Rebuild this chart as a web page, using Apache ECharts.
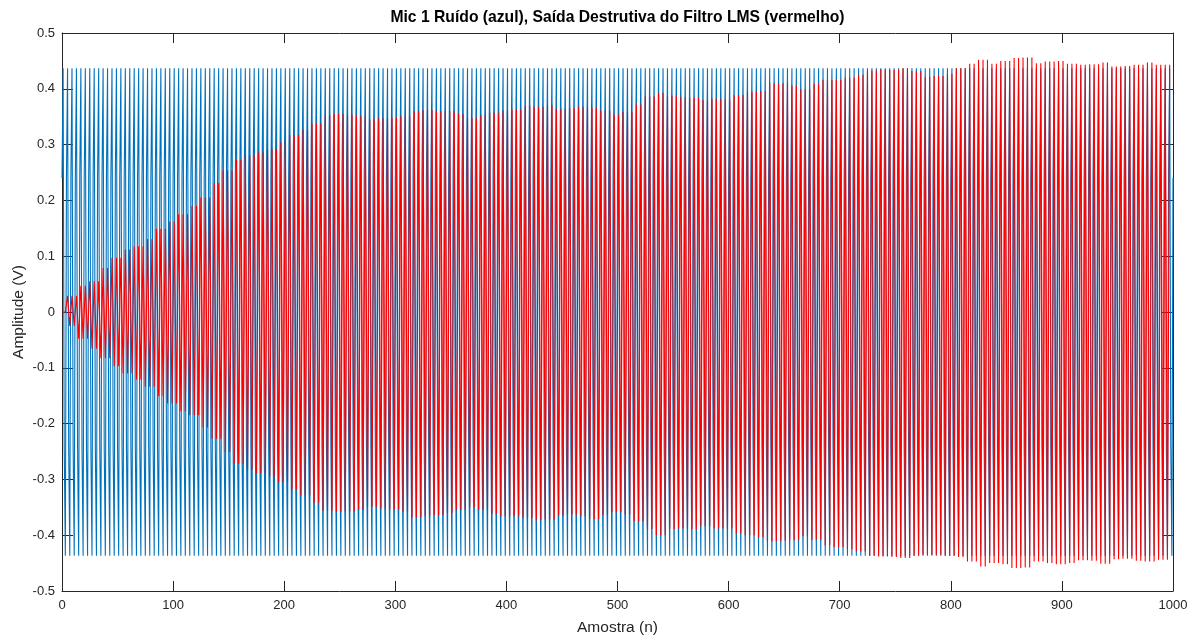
<!DOCTYPE html>
<html>
<head>
<meta charset="utf-8">
<script src="https://cdn.jsdelivr.net/npm/echarts@6/dist/echarts.min.js"></script>
<style>
  html, body { margin: 0; padding: 0; background: #fff; }
  #chart { width: 1201px; height: 637px; }
</style>
</head>
<body>
<div id="chart"></div>
<script>
// Mic 1 noise: a tone at a quarter of the sample rate, one period = 4 samples
const blueCycle = [0.24, 0.437, -0.24, -0.437];
const blueCount = 1001;

// LMS destructive output: peak envelope, one value every 10 samples (n = 0, 10, ..., 990)
const envStep = 10;
const redUpper = [
  0.000, 0.029, 0.047, 0.055, 0.079, 0.097, 0.112, 0.118, 0.131, 0.149,
  0.162, 0.175, 0.190, 0.205, 0.231, 0.254, 0.273, 0.281, 0.286, 0.292,
  0.304, 0.317, 0.327, 0.338, 0.353, 0.355, 0.354, 0.351, 0.345, 0.347,
  0.348, 0.351, 0.360, 0.362, 0.360, 0.360, 0.355, 0.347, 0.353, 0.357,
  0.361, 0.363, 0.369, 0.368, 0.371, 0.364, 0.365, 0.368, 0.366, 0.361,
  0.354, 0.359, 0.372, 0.386, 0.393, 0.388, 0.385, 0.384, 0.380, 0.382,
  0.381, 0.389, 0.395, 0.396, 0.410, 0.410, 0.406, 0.399, 0.409, 0.416,
  0.416, 0.420, 0.425, 0.433, 0.435, 0.434, 0.437, 0.432, 0.421, 0.423,
  0.427, 0.437, 0.445, 0.452, 0.445, 0.450, 0.455, 0.456, 0.446, 0.449,
  0.450, 0.445, 0.443, 0.444, 0.447, 0.440, 0.441, 0.443, 0.447, 0.443
];
const redLower = [
  0.000, -0.025, -0.048, -0.066, -0.083, -0.097, -0.110, -0.121, -0.134, -0.151,
  -0.164, -0.178, -0.185, -0.207, -0.227, -0.251, -0.272, -0.283, -0.289, -0.295,
  -0.305, -0.318, -0.329, -0.342, -0.356, -0.358, -0.357, -0.355, -0.349, -0.352,
  -0.354, -0.358, -0.368, -0.365, -0.364, -0.360, -0.355, -0.350, -0.355, -0.362,
  -0.366, -0.366, -0.369, -0.373, -0.372, -0.365, -0.363, -0.366, -0.371, -0.364,
  -0.359, -0.363, -0.375, -0.389, -0.400, -0.389, -0.388, -0.389, -0.384, -0.388,
  -0.388, -0.397, -0.400, -0.403, -0.411, -0.410, -0.409, -0.402, -0.408, -0.418,
  -0.421, -0.425, -0.429, -0.437, -0.438, -0.439, -0.441, -0.437, -0.435, -0.435,
  -0.437, -0.439, -0.447, -0.456, -0.450, -0.452, -0.459, -0.458, -0.447, -0.450,
  -0.452, -0.450, -0.445, -0.446, -0.451, -0.443, -0.442, -0.446, -0.447, -0.444
];
const redCount = 998;

const xTicks = { min: 0, max: 1000, step: 100 };
const yTicks = { min: -0.5, max: 0.5, step: 0.1 };

const titleText = 'Mic 1 Ruído (azul), Saída Destrutiva do Filtro LMS (vermelho)';
const xName = 'Amostra (n)';
const yName = 'Amplitude (V)';

// Blue samples: the single period repeated over the record
const blueData = [];
for (let n = 0; n < blueCount; n++) {
  blueData.push([n, blueCycle[n % 4]]);
}

// Red peaks: positive peak at 4k+1, negative peak at 4k+3,
// each taken from the envelope bin the sample falls in
const redData = [[0, 0]];
for (let n = 1; n < redCount; n += 2) {
  const bin = Math.min(Math.round(n / envStep), redUpper.length - 1);
  redData.push([n, n % 4 === 1 ? redUpper[bin] : redLower[bin]]);
}

const axisColor = '#262626';
const font = '"Liberation Sans", Arial, Helvetica, sans-serif';
const plot = { left: 62, right: 28, top: 33, bottom: 46 };

const chart = echarts.init(document.getElementById('chart'), null, { renderer: 'canvas' });

const boxAxis = {
  axisLine: { show: true, onZero: false, lineStyle: { color: axisColor, width: 1 } },
  splitLine: { show: false }
};

chart.setOption({
  animation: false,
  backgroundColor: '#ffffff',
  graphic: [{
    type: 'text',
    x: plot.left + (1201 - plot.left - plot.right) / 2,
    y: 18,
    style: {
      text: titleText,
      align: 'center',
      verticalAlign: 'middle',
      font: 'bold 15.7px ' + font,
      fill: '#000000'
    }
  }],
  grid: Object.assign({ containLabel: false, outerBoundsMode: 'none' }, plot),
  xAxis: [
    Object.assign({
      type: 'value', position: 'bottom',
      min: xTicks.min, max: xTicks.max, interval: xTicks.step,
      name: xName, nameLocation: 'middle', nameGap: 29,
      nameMoveOverlap: false,
      nameTextStyle: { fontFamily: font, fontSize: 15.5, color: axisColor },
      axisTick: { show: true, inside: true, length: 10, lineStyle: { color: axisColor } },
      axisLabel: {
        fontFamily: font, fontSize: 13, color: axisColor, margin: 8,
        formatter: v => String(Math.round(v))
      }
    }, boxAxis),
    Object.assign({
      type: 'value', position: 'top',
      min: xTicks.min, max: xTicks.max, interval: xTicks.step,
      axisTick: { show: true, inside: true, length: 10, lineStyle: { color: axisColor } },
      axisLabel: { show: false }
    }, boxAxis)
  ],
  yAxis: [
    Object.assign({
      type: 'value', position: 'left',
      min: yTicks.min, max: yTicks.max, interval: yTicks.step,
      name: yName, nameLocation: 'middle', nameGap: 35, nameRotate: 90,
      nameMoveOverlap: false,
      nameTextStyle: { fontFamily: font, fontSize: 15.5, color: axisColor },
      axisTick: { show: true, inside: true, length: 11, lineStyle: { color: axisColor } },
      axisLabel: {
        fontFamily: font, fontSize: 13, color: axisColor, margin: 7,
        formatter: v => String(Math.round(v * 10) / 10)
      }
    }, boxAxis),
    Object.assign({
      type: 'value', position: 'right',
      min: yTicks.min, max: yTicks.max, interval: yTicks.step,
      axisTick: { show: true, inside: true, length: 11, lineStyle: { color: axisColor } },
      axisLabel: { show: false }
    }, boxAxis)
  ],
  series: [
    {
      name: 'Mic 1 Ruído',
      type: 'line',
      xAxisIndex: 0, yAxisIndex: 0,
      data: blueData,
      showSymbol: false, symbol: 'none',
      sampling: null,
      lineStyle: { color: '#0072BD', width: 1.1 },
      z: 2
    },
    {
      name: 'Saída Destrutiva',
      type: 'line',
      xAxisIndex: 0, yAxisIndex: 0,
      data: redData,
      showSymbol: false, symbol: 'none',
      sampling: null,
      lineStyle: { color: '#FF0000', width: 1.1 },
      z: 3
    }
  ]
});
</script>
</body>
</html>
